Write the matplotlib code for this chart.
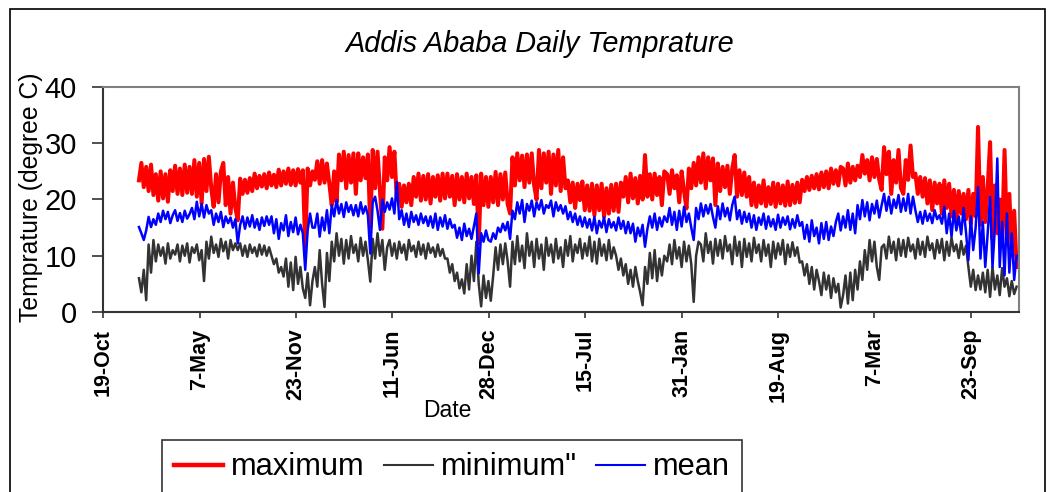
import datetime
import matplotlib
matplotlib.use("Agg")
import matplotlib.pyplot as plt
from matplotlib.lines import Line2D
from matplotlib.patches import Rectangle
import pandas as pd

plt.rcParams['font.family'] = ['Liberation Sans', 'DejaVu Sans']

# 5-day samples, one list of 73 per year
years = [2002, 2003, 2004, 2005, 2006]

tmax = {
    2002: [23.4, 26.5, 22.2, 25.8, 21.5, 26.2, 20.8, 24.5, 19.8, 25.0, 20.2, 24.5, 19.6, 25.2,
           21.5, 26.0, 21.0, 25.5, 20.8, 26.2, 21.2, 25.8, 21.0, 27.0, 20.5, 26.5, 19.3,
           27.2, 21.5, 27.6, 22.0, 18.7, 24.5, 19.5, 25.0, 26.5, 19.0, 24.0, 17.5, 23.0, 18.5,
           16.3, 23.7, 21.0, 23.5, 21.2, 23.8, 21.5, 24.6, 22.0, 24.2, 22.3, 24.5, 22.0, 24.8,
           22.5, 24.4, 22.2, 25.3, 22.5, 25.0, 22.8, 25.5, 22.6, 25.2, 22.5, 25.4, 23.0, 25.2,
           11.6, 25.5, 22.5, 25.0],
    2003: [23.5, 26.8, 22.8, 27.0, 23.0, 26.4, 22.8, 19.0, 25.0, 19.5, 28.0, 23.4, 28.5, 22.0,
           27.9, 23.0, 28.2, 21.0, 28.2, 23.4, 27.5, 23.8, 28.0, 15.1, 28.8, 22.0, 28.5, 21.5,
           14.8, 27.5, 23.4, 29.3, 24.0, 28.5, 20.0, 22.8, 18.7, 22.5, 19.5, 22.8, 19.0,
           24.0, 20.5, 24.6, 19.8, 24.2, 20.0, 24.5, 19.3, 24.0, 20.5, 24.3, 19.8, 24.6, 20.2,
           24.6, 20.5, 24.2, 19.0, 24.5, 20.0, 24.0, 19.5, 24.6, 20.2, 24.0, 19.2, 24.3,
           12.2, 24.6, 19.0, 24.0, 18.7],
    2004: [24.0, 19.5, 24.9, 19.0, 24.5, 20.0, 24.8, 19.2, 17.5, 27.5, 22.5, 28.2, 23.4, 27.8,
           22.2, 28.0, 23.0, 28.2, 22.5, 20.0, 28.8, 22.0, 28.2, 23.0, 28.5, 21.0, 28.0, 22.5,
           28.8, 21.5, 27.5, 22.0, 23.4, 19.5, 23.0, 18.5, 22.8, 19.9, 23.2, 18.1, 22.5,
           18.0, 22.8, 17.2, 22.5, 18.1, 22.8, 16.9, 22.0, 17.5, 22.6, 18.0, 22.8, 17.8, 23.0,
           20.5, 24.0, 19.5, 24.6, 20.2, 23.8, 19.3, 24.2, 20.0, 27.9, 20.5, 24.5, 20.0, 24.6,
           20.8, 24.0, 19.0, 25.0],
    2005: [24.5, 21.0, 25.2, 22.0, 24.3, 19.5, 25.0, 21.5, 18.4, 25.5, 22.0, 26.5, 22.5, 27.5,
           23.0, 28.2, 22.0, 27.5, 23.4, 27.3, 19.0, 26.4, 21.5, 25.8, 22.2, 26.0, 21.0, 25.5,
           27.9, 20.5, 25.2, 20.8, 24.8, 20.5, 24.0, 19.0, 23.0, 18.7, 22.5, 19.3, 23.4, 18.8,
           22.2, 19.2, 23.0, 18.7, 22.8, 19.3, 22.5, 18.9, 23.2, 19.0, 22.6, 19.4, 23.0, 19.5,
           23.5, 21.5, 24.0, 21.7, 24.2, 22.0, 24.5, 21.8, 24.8, 22.2, 25.0, 22.0, 25.5, 22.8,
           25.2, 22.5, 25.8],
    2006: [25.5, 22.5, 26.4, 23.0, 25.8, 23.4, 26.0, 24.0, 27.9, 24.6, 27.0, 23.4, 27.5, 24.0,
           27.2, 23.5, 21.7, 29.3, 24.5, 28.5, 21.0, 27.0, 23.0, 28.8, 22.0, 21.0, 27.0, 23.5,
           29.6, 24.0, 24.6, 21.0, 24.0, 20.5, 23.8, 19.3, 23.4, 18.1, 23.0, 19.3, 22.8, 17.5,
           23.4, 18.5, 22.8, 17.0, 21.7, 16.3, 21.5, 17.5, 21.0, 16.5, 21.7, 15.7, 21.0, 17.0,
           32.9, 15.5, 24.0, 16.0, 22.0, 30.2, 13.0, 22.5, 14.0, 20.0, 12.8, 28.8, 13.0, 21.0,
           10.0, 18.0, 8.0],
}

tmin = {
    2002: [6.0, 3.5, 7.5, 2.1, 12.0, 7.0, 12.8, 9.0, 12.0, 10.0, 11.5, 8.6, 12.2, 9.5, 11.0,
           10.2, 12.0, 9.0, 11.8, 10.0, 12.2, 8.8, 11.5, 10.5, 12.0, 9.2, 11.0, 5.5,
           12.5, 9.5, 13.4, 10.5, 12.0, 9.8, 13.0, 10.8, 12.5, 9.5, 12.8, 11.0, 12.2,
           11.0, 12.2, 10.0, 11.8, 9.8, 12.0, 10.5, 11.5, 9.9, 12.0, 10.2, 11.8, 10.0, 11.5,
           10.0, 8.5, 9.5, 7.0, 8.0, 6.3, 9.5, 4.5, 8.8, 3.9, 9.8, 5.0, 8.0, 4.2,
           2.5, 6.9, 1.2, 5.5],
    2003: [8.0, 4.5, 11.0, 5.0, 0.9, 10.5, 5.5, 12.5, 9.0, 14.0, 10.0, 13.0, 8.6, 12.8, 9.5,
           13.5, 10.5, 12.0, 9.0, 13.2, 10.0, 12.5, 9.2, 5.4, 13.0, 9.5, 14.0, 10.0, 12.8, 7.5,
           11.5, 12.8, 10.0, 12.2, 9.5, 12.5, 10.5, 12.0, 9.3, 12.8, 10.8, 11.8, 9.8, 12.5,
           10.2, 12.0, 9.5, 12.2, 10.5, 11.5, 9.8, 12.0, 10.0, 11.2, 9.5,
           9.5, 7.0, 8.5, 5.5, 7.0, 4.2, 5.8, 3.3, 8.5, 4.0, 10.0, 5.5, 12.5,
           5.0, 1.0, 6.5, 2.5, 5.5],
    2004: [2.0, 6.5, 11.5, 7.5, 12.0, 8.5, 12.2, 9.0, 4.5,
           12.5, 8.5, 13.5, 9.0, 11.8, 7.8, 14.0, 10.0, 12.5, 8.0, 13.0, 9.5, 12.0, 7.5, 13.2,
           10.0, 12.0, 8.8, 13.0, 9.5, 11.5, 8.0, 12.8, 10.0, 13.5, 9.0, 12.0, 10.5, 13.0, 9.5,
           12.2, 10.0, 13.4, 9.0, 12.5, 8.6, 13.0, 10.0, 12.0, 9.2, 12.8, 9.5, 11.5,
           10.0, 7.5, 9.5, 6.5, 8.5, 5.0, 7.5, 4.5, 8.0, 5.5, 3.5, 1.2,
           8.0, 5.0, 10.5, 6.0, 11.0, 5.5, 9.5, 6.5, 10.0],
    2005: [9.0, 12.0, 8.5, 12.8, 9.5, 11.5, 8.0, 12.5, 9.0, 11.8, 8.5, 1.8, 10.0, 12.5,
           12.0, 9.0, 14.0, 10.5, 12.5, 8.6, 13.0, 10.0, 12.8, 9.5, 13.5, 10.8,
           12.0, 8.5, 13.4, 10.0, 12.5, 8.0, 13.0, 9.8, 12.2, 9.0, 13.2, 10.5, 12.0,
           9.0, 12.8, 10.0, 12.0, 8.0, 12.5, 9.5, 12.2, 10.2, 12.8, 8.5, 12.0, 9.8, 12.4, 10.0,
           11.5, 8.8, 9.0, 6.5, 8.5, 5.0, 8.0, 4.0, 7.5, 5.5, 3.0, 7.0, 4.0, 6.5, 2.5, 6.0,
           3.5, 5.0, 0.8],
    2006: [3.0, 6.5, 1.5, 7.0, 2.1, 7.5, 4.0, 9.0, 5.7, 11.0, 7.5, 12.8, 9.0, 12.5, 8.0, 5.7,
           11.5, 12.0, 9.5, 13.4, 10.5, 12.5, 9.2, 13.0, 10.0, 12.8, 9.8, 13.2, 10.8, 12.0,
           9.5, 13.0, 10.2, 12.5, 9.8, 13.4, 11.0, 12.2, 9.5, 12.8, 10.5, 13.0, 9.2, 12.5,
           10.0, 13.2, 10.8, 12.0, 9.6, 12.6, 10.2, 11.8, 8.0, 4.5, 7.5, 3.9, 6.5, 4.0, 7.0,
           3.5, 7.5, 2.7, 8.0, 4.0, 6.5, 3.0, 7.8, 4.5, 6.0, 2.8, 5.5, 3.2, 4.5],
}

tmean = {
    2002: [15.1, 14.0, 12.8, 14.5, 16.9, 15.1, 16.5, 15.5, 17.5, 16.0, 18.0, 16.5, 17.8, 15.8,
           17.2, 18.1, 16.2, 17.6, 16.0, 18.0, 16.6, 17.4, 18.5, 16.5, 19.6, 17.0, 19.2, 16.8,
           19.0, 17.5, 18.1, 15.5, 17.5, 16.0, 17.8, 15.1, 17.0, 15.8, 16.8, 15.0, 16.5, 12.2,
           15.5, 17.0, 14.8, 16.8, 15.2, 17.2, 15.0, 16.5, 14.6, 16.8, 15.3, 17.0, 15.5,
           17.0, 14.0, 16.5, 13.0, 15.8, 14.5, 17.2, 13.5, 16.0, 14.2, 16.8, 13.8, 15.5, 14.0,
           7.5, 14.5, 17.5, 15.0],
    2003: [15.0, 17.5, 13.4, 16.8, 14.5, 18.1, 14.0, 19.0, 17.0, 19.9, 17.5, 19.2, 16.9, 19.5,
           17.8, 19.0, 17.2, 19.0, 17.0, 19.5, 17.5, 18.8, 17.2, 10.4, 19.5, 20.5, 18.0, 14.6,
           20.0, 17.8, 19.5, 18.2, 20.2, 17.5, 23.1, 16.5, 18.1, 15.5, 17.5, 15.1, 17.8, 16.0,
           17.2, 15.5, 17.5, 15.8, 17.0, 15.3, 17.0, 15.0, 17.5, 14.6, 16.8, 15.2, 17.2, 14.8,
           16.5, 15.0, 15.5, 13.2, 15.0, 12.8, 15.7, 13.5, 14.8, 13.0, 15.2, 17.5, 6.9,
           14.0, 12.5, 14.5, 12.8],
    2004: [12.5, 14.0, 13.0, 15.0, 14.2, 15.7, 14.5, 16.0, 13.0,
           18.0, 16.5, 19.5, 17.5, 19.9, 16.0, 19.2, 18.0, 19.8, 17.0, 19.5, 18.2, 19.9, 17.5,
           19.0, 18.5, 19.8, 17.0, 19.5, 18.0, 19.0, 17.5, 18.8, 16.5,
           17.8, 16.0, 17.5, 15.5, 17.0, 15.2, 16.8, 15.0,
           16.5, 14.5, 16.9, 14.0, 16.2, 15.0, 16.8, 14.2, 16.5, 15.0, 16.0, 14.5, 16.8, 14.8,
           16.2, 14.0, 16.0, 14.0, 15.7, 12.5, 15.0, 13.5, 15.5, 11.6, 14.8,
           17.0, 15.0, 17.5, 14.6, 16.8, 15.2, 17.0],
    2005: [16.0, 18.5, 15.5, 17.8, 14.6, 18.0, 15.2, 18.7, 16.0, 17.5, 15.0, 12.8, 18.5, 16.5,
           19.3, 17.0, 19.0, 17.5, 19.2, 16.9, 15.0, 18.8, 16.5, 19.3, 17.0, 18.5, 16.3, 19.0,
           20.5, 16.5, 18.1, 15.7, 17.8, 16.0, 17.5, 15.0, 17.2, 14.6, 16.8, 15.5, 17.5, 14.8,
           17.0, 15.2, 16.5, 14.6, 17.3, 15.0, 16.8, 15.5, 17.0, 14.7, 16.5, 15.0, 17.2, 15.3,
           16.0, 13.0, 15.5, 12.5, 16.3, 13.5, 15.0, 12.2, 15.8, 13.0, 16.0, 12.8, 15.2, 13.5,
           16.0, 17.5, 14.5],
    2006: [17.0, 15.0, 18.1, 14.6, 17.5, 14.0, 19.0, 16.5, 19.9, 17.0, 19.5, 16.3, 19.2, 17.5,
           19.8, 16.8, 19.0, 21.0, 18.0, 20.5, 17.5, 20.0, 18.5, 20.8, 17.8, 20.2, 18.0, 21.0,
           17.5, 20.5, 18.1, 16.0, 17.8, 15.7, 18.0, 16.2, 17.5, 15.8, 18.1, 16.5, 17.2, 15.7,
           18.7, 14.0, 17.5, 13.4, 18.0, 14.5, 17.0, 13.8, 18.5, 14.2, 9.2, 17.0, 11.0, 15.0,
           22.2, 9.5, 16.0, 8.0, 14.0, 20.5, 8.0, 15.0, 27.3, 8.0, 16.0, 6.5, 17.5, 7.0, 14.0,
           5.7, 10.0],
}

axis_start = datetime.date(2001, 10, 19)
axis_end = datetime.date(2007, 1, 1)
tick_step_days = 200
y_ticks = [0, 10, 20, 30, 40]

dates, vmax, vmin, vmean = [], [], [], []
for yr in years:
    dates.extend(pd.date_range(f"{yr}-01-01", periods=73, freq="5D"))
    vmax.extend(tmax[yr])
    vmin.extend(tmin[yr])
    vmean.extend(tmean[yr])

W, H = 1054, 492
fig = plt.figure(figsize=(W / 100, H / 100), dpi=100)
ax = fig.add_axes([103.3 / W, 1 - 312 / H, (1019 - 103.3) / W, (312 - 87) / H])

ax.plot(dates, vmax, color='#ff0000', lw=2.9)
ax.plot(dates, vmin, color='#333333', lw=1.8)
ax.plot(dates, vmean, color='#0000ff', lw=1.8)

ax.set_xlim(axis_start, axis_end)
ax.set_ylim(0, 40)
ax.set_yticks(y_ticks)
ticks = [axis_start + datetime.timedelta(days=tick_step_days * k) for k in range(10)]
ax.set_xticks(ticks)
ax.set_xticklabels([f"{d.day}-{d:%b}" for d in ticks], rotation=90,
                   fontsize=15.5, fontweight='bold')
ax.tick_params(axis='x', direction='out', length=4, width=1.2, pad=8, color='#333333')
ax.tick_params(axis='y', direction='out', length=8, width=1.2, pad=11, labelsize=21,
               color='#333333')

for s in ['left', 'bottom']:
    ax.spines[s].set_color('#333333')
    ax.spines[s].set_linewidth(1.5)
for s in ['top', 'right']:
    ax.spines[s].set_color('#808080')
    ax.spines[s].set_linewidth(1.5)

fig.text(540 / W, 1 - 52 / H, 'Addis Ababa Daily Temprature', fontsize=20.8,
         style='italic', ha='center', va='baseline')
fig.text(31 / W, 1 - 197 / H, 'Temprature (degree C)', fontsize=17.8,
         rotation=90, ha='center', va='center')
fig.text(447 / W, 1 - 417 / H, 'Date', fontsize=16.5, ha='center', va='baseline')

# outer chart border
fig.patches.append(Rectangle((10 / W, -0.05), (1045 - 10) / W, 1.05 - 9 / H,
                             transform=fig.transFigure, fill=False,
                             edgecolor='black', lw=1.2))

handles = [Line2D([], [], color='#ff0000', lw=3.2),
           Line2D([], [], color='#333333', lw=1.5),
           Line2D([], [], color='#0000ff', lw=1.5)]
leg = fig.legend(handles, ['maximum', 'minimum"', 'mean'], ncol=3,
                 loc='upper left', bbox_to_anchor=(161.7 / W, 1 - 440 / H),
                 fontsize=22.2, frameon=True, fancybox=False, edgecolor='black',
                 handlelength=1.6, handletextpad=0.25, columnspacing=0.62,
                 borderpad=0.4, borderaxespad=0)
leg.get_frame().set_linewidth(1.2)

fig.savefig('out.png', dpi=100)
